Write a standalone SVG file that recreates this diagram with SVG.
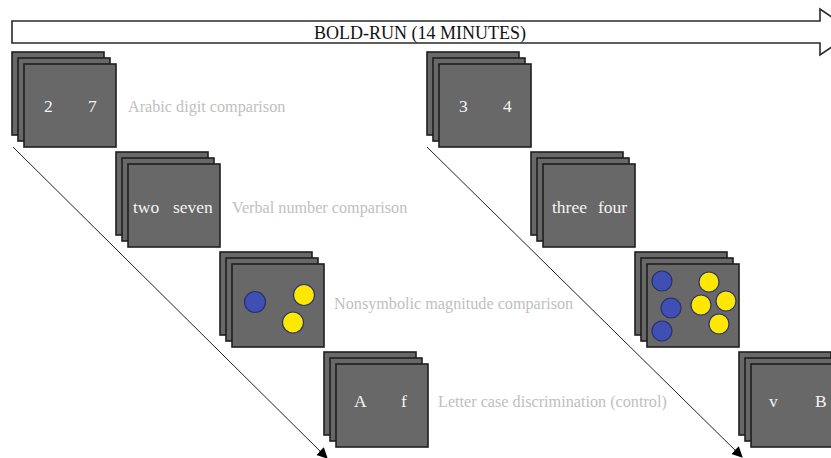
<svg xmlns="http://www.w3.org/2000/svg" width="831" height="458" viewBox="0 0 831 458" font-family="'Liberation Serif', 'Times New Roman', 'DejaVu Serif', serif">
  <defs>
    <style>
      .card { fill: #686868; stroke: #1e1e1e; stroke-width: 1.6; }
      .stim { font-family: 'Liberation Serif', 'Times New Roman', 'DejaVu Serif', serif; font-size: 17.5px; fill: #f4f4f4; }
      .lbl { font-family: 'Liberation Serif', 'Times New Roman', 'DejaVu Serif', serif; font-size: 16.2px; fill: #c0c0c0; }
      .title { font-family: 'Liberation Serif', 'Times New Roman', 'DejaVu Serif', serif; font-size: 18px; fill: #111; }
      .blue { fill: #3f4fb3; stroke: #27306c; stroke-width: 1.2; }
      .yellow { fill: #ffe800; stroke: #2c3570; stroke-width: 1.2; }
      .flow { stroke: #222; stroke-width: 1; fill: none; }
    </style>
    <!-- three stacked screens, offset 6px each -->
    <g id="stack">
      <rect class="card" x="0" y="0" width="92" height="83"/>
      <rect class="card" x="6" y="6" width="92" height="83"/>
      <rect class="card" x="12" y="12" width="92" height="83"/>
    </g>
    <marker id="head" viewBox="0 0 10 10" refX="9" refY="5" markerWidth="11" markerHeight="11" markerUnits="userSpaceOnUse" orient="auto">
      <path d="M0,0 L10,5 L0,10 z" fill="#000"/>
    </marker>
  </defs>

  <!-- run timeline arrow -->
  <g id="run">
    <polygon points="12,21 820,21 820,9 854,32 820,55 820,43 12,43" fill="#fff" stroke="#2a2a2a" stroke-width="1.6"/>
    <text class="title" x="420" y="39" text-anchor="middle">BOLD-RUN (14 MINUTES)</text>
  </g>

  <!-- connectors -->
  <g id="connectors">
    <line class="flow" x1="13" y1="147" x2="327" y2="458" marker-end="url(#head)"/>
    <line class="flow" x1="427" y1="147" x2="742" y2="457" marker-end="url(#head)"/>
  </g>

  <!-- block 1 -->
  <g id="digits-1">
    <use href="#stack" x="12" y="52"/>
    <text class="stim" x="44" y="112">2</text>
    <text class="stim" x="88" y="112">7</text>
    <text class="lbl" x="128" y="112">Arabic digit comparison</text>
  </g>
  <g id="words-1">
    <use href="#stack" x="116" y="152"/>
    <text class="stim" x="133" y="213">two</text>
    <text class="stim" x="173" y="213">seven</text>
    <text class="lbl" x="232" y="213">Verbal number comparison</text>
  </g>
  <g id="dots-1">
    <use href="#stack" x="220" y="252"/>
    <circle class="blue" cx="255" cy="302" r="10.5"/>
    <circle class="yellow" cx="304" cy="295" r="10.5"/>
    <circle class="yellow" cx="293" cy="322.5" r="10.5"/>
    <text class="lbl" x="334" y="309">Nonsymbolic magnitude comparison</text>
  </g>
  <g id="letters-1">
    <use href="#stack" x="324" y="352"/>
    <text class="stim" x="354" y="407">A</text>
    <text class="stim" x="401" y="407">f</text>
    <text class="lbl" x="438" y="407">Letter case discrimination (control)</text>
  </g>

  <!-- block 2 -->
  <g id="digits-2">
    <use href="#stack" x="427" y="52"/>
    <text class="stim" x="459" y="112">3</text>
    <text class="stim" x="503" y="112">4</text>
  </g>
  <g id="words-2">
    <use href="#stack" x="531" y="152"/>
    <text class="stim" x="552" y="213">three</text>
    <text class="stim" x="598" y="213">four</text>
  </g>
  <g id="dots-2">
    <use href="#stack" x="635" y="252"/>
    <circle class="blue" cx="662" cy="281" r="10"/>
    <circle class="blue" cx="671" cy="308" r="10"/>
    <circle class="blue" cx="662" cy="331" r="10"/>
    <circle class="yellow" cx="709" cy="282" r="10"/>
    <circle class="yellow" cx="701" cy="305" r="10"/>
    <circle class="yellow" cx="726" cy="301" r="10"/>
    <circle class="yellow" cx="719" cy="324" r="10"/>
  </g>
  <g id="letters-2">
    <use href="#stack" x="739" y="352"/>
    <text class="stim" x="769" y="407">v</text>
    <text class="stim" x="815" y="407">B</text>
  </g>
</svg>
